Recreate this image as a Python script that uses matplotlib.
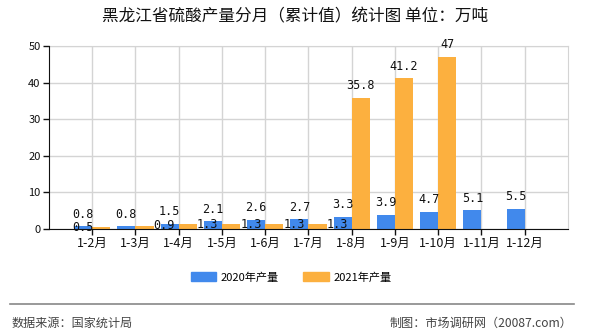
import matplotlib
matplotlib.use("Agg")
import matplotlib.pyplot as plt
import numpy as np

plt.rcParams['font.family'] = ['Noto Sans CJK SC', 'DejaVu Sans']

months = ["1-2月", "1-3月", "1-4月", "1-5月", "1-6月", "1-7月",
          "1-8月", "1-9月", "1-10月", "1-11月", "1-12月"]
prod_2020 = [0.8, 0.8, 1.5, 2.1, 2.6, 2.7, 3.3, 3.9, 4.7, 5.1, 5.5]
prod_2021 = [0.5, 0.9, 1.3, 1.3, 1.3, 1.3, 35.8, 41.2, 47]
y_ticks = [0, 10, 20, 30, 40, 50]

BLUE = "#4189EC"
ORANGE = "#FCB03F"


def main():
    fig = plt.figure(figsize=(5.9, 3.3), dpi=100)
    ax = fig.add_axes([0.083, 0.306, 0.8797, 0.5546])

    x = np.arange(len(months))
    w = 0.42
    ax.bar(x[:len(prod_2020)] - w / 2, prod_2020, width=w, color=BLUE, zorder=3)
    ax.bar(x[:len(prod_2021)] + w / 2, prod_2021, width=w, color=ORANGE, zorder=3)

    lab_font = dict(family="DejaVu Sans Mono", fontsize=8.5, color="#111111")
    for xi, v in zip(x, prod_2020):
        ax.annotate(f"{v:g}", (xi - w / 2, v), xytext=(0, 4), textcoords="offset points",
                    ha="center", va="bottom", zorder=5, **lab_font)
    for xi, v in zip(x, prod_2021):
        if v > 10:
            ax.annotate(f"{v:g}", (xi + w / 2, v), xytext=(0, 4), textcoords="offset points",
                        ha="center", va="bottom", zorder=5, **lab_font)
        elif xi == 0:
            ax.annotate(f"{v:g}", (xi - w / 2, v), ha="center", va="center",
                        zorder=5, **lab_font)
        else:
            ax.annotate(f"{v:g}", (xi + w, v), xytext=(0, 0), textcoords="offset points",
                        ha="left", va="center", zorder=5, **lab_font)

    ax.set_xlim(-1, 11)
    ax.set_ylim(0, 50)
    ax.set_yticks(y_ticks)
    ax.set_xticks(x)
    ax.set_xticklabels(months)
    ax.tick_params(axis="x", length=4, width=1, labelsize=9, pad=2, colors="#111111")
    ax.tick_params(axis="y", length=4, width=1, labelsize=8, pad=2, colors="#111111")

    ax.grid(True, color="#d4d4d4", linewidth=1, zorder=0)
    ax.set_axisbelow(True)
    for side in ["top", "right"]:
        ax.spines[side].set_color("#d4d4d4")
    for side in ["left", "bottom"]:
        ax.spines[side].set_color("#111111")
        ax.spines[side].set_zorder(4)

    fig.text(0.5, 0.948, "黑龙江省硫酸产量分月（累计值）统计图 单位：万吨",
             ha="center", va="center", fontsize=12, color="#111111")

    handles = [plt.Rectangle((0, 0), 1, 1, color=BLUE),
               plt.Rectangle((0, 0), 1, 1, color=ORANGE)]
    fig.legend(handles, ["2020年产量", "2021年产量"], loc="center",
               bbox_to_anchor=(0.493, 0.16), ncol=2, frameon=False, fontsize=8,
               handlelength=2.3, handleheight=0.9, columnspacing=2.2, handletextpad=0.4)

    fig.add_artist(plt.Line2D([0.017, 0.973], [0.08, 0.08], color="#888888", linewidth=1.2))
    fig.text(0.02, 0.02, "数据来源：国家统计局", ha="left", va="center",
             fontsize=8.7, color="#444444")
    fig.text(0.97, 0.02, "制图：市场调研网（20087.com）", ha="right", va="center",
             fontsize=8.7, color="#444444")

    fig.savefig("out.png", dpi=100)
    plt.close(fig)


if __name__ == "__main__":
    main()
